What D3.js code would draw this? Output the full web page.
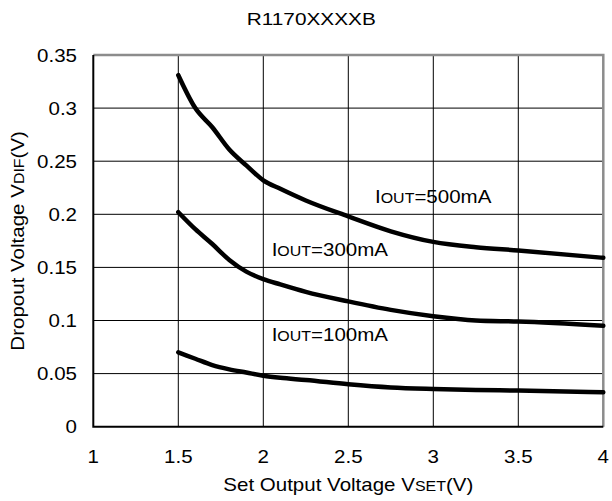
<!DOCTYPE html>
<html>
<head>
<meta charset="utf-8">
<script src="https://cdn.jsdelivr.net/npm/d3@7"></script>
<style>
  body { margin: 0; background: #fff; }
  text { font-family: "Liberation Sans", Arial, sans-serif; fill: #000; }
</style>
</head>
<body>
<div id="chart"></div>
<script>
// data
const vset = [1.5, 1.6, 1.7, 1.8, 1.9, 2.0, 2.1, 2.25, 2.5, 2.75, 3.0, 3.25, 3.5, 4.0];
const vdif500 = [0.331, 0.300, 0.282, 0.261, 0.246, 0.232, 0.224, 0.213, 0.198, 0.184, 0.174, 0.169, 0.166, 0.159];
const vdif300 = [0.202, 0.186, 0.172, 0.157, 0.146, 0.139, 0.134, 0.127, 0.118, 0.110, 0.104, 0.100, 0.099, 0.095];
const vdif100 = [0.070, 0.064, 0.058, 0.054, 0.051, 0.048, 0.046, 0.044, 0.040, 0.037, 0.0355, 0.0345, 0.034, 0.0325];
const seriesNames = ["500mA", "300mA", "100mA"];
const xTicks = [1, 1.5, 2, 2.5, 3, 3.5, 4];
const yTicks = [0, 0.05, 0.1, 0.15, 0.2, 0.25, 0.3, 0.35];

const width = 612, height = 501;
const plot = { left: 93.3, right: 603.3, top: 55, bottom: 426.7 };
const sx = 1.14; // the source fonts are drawn a bit wide

const svg = d3.select("#chart").append("svg")
  .attr("width", width).attr("height", height);

const x = d3.scaleLinear().domain([1, 4]).range([plot.left, plot.right]);
const y = d3.scaleLinear().domain([0, 0.35]).range([plot.bottom, plot.top]);

// text with optional small-caps style subscripts, stretched horizontally
function label(px, py, parts, opts) {
  const o = Object.assign({ size: 18, small: 14, anchor: "start", rotate: 0, stretch: sx }, opts);
  const g = svg.append("g")
    .attr("transform", `translate(${px},${py}) rotate(${o.rotate}) scale(${o.stretch},1)`);
  const t = g.append("text").attr("text-anchor", o.anchor).attr("font-size", o.size);
  parts.forEach(p => {
    t.append("tspan").attr("font-size", p.small ? o.small : o.size).text(p.t);
  });
  return t;
}

// grid
svg.append("g").selectAll("line").data(yTicks.slice(1, -1)).join("line")
  .attr("x1", plot.left).attr("x2", plot.right)
  .attr("y1", d => y(d)).attr("y2", d => y(d))
  .attr("stroke", "#000").attr("stroke-width", 1);
svg.append("g").selectAll("line").data(xTicks.slice(1, -1)).join("line")
  .attr("x1", d => x(d)).attr("x2", d => x(d))
  .attr("y1", plot.top).attr("y2", plot.bottom)
  .attr("stroke", "#000").attr("stroke-width", 1);

// frame: grey top/right, black left/bottom
svg.append("path")
  .attr("d", `M${plot.left},${plot.top}H${plot.right}V${plot.bottom}`)
  .attr("fill", "none").attr("stroke", "#8c8c8c").attr("stroke-width", 2.5);
svg.append("path")
  .attr("d", `M${plot.left},${plot.top}V${plot.bottom}H${plot.right}`)
  .attr("fill", "none").attr("stroke", "#000").attr("stroke-width", 2);

// tick labels
yTicks.forEach(v => label(77, y(v) + 6.5, [{ t: String(+v.toFixed(2)) }], { anchor: "end" }));
xTicks.forEach(v => label(x(v), 463, [{ t: String(v) }], { anchor: "middle" }));

// curves
const line = d3.line()
  .x((d, i) => x(vset[i]))
  .y(d => y(d))
  .curve(d3.curveMonotoneX);
[vdif500, vdif300, vdif100].forEach(s => {
  svg.append("path")
    .attr("d", line(s))
    .attr("fill", "none")
    .attr("stroke", "#000")
    .attr("stroke-width", 4.5)
    .attr("stroke-linecap", "round")
    .attr("stroke-linejoin", "round");
});

// series labels
const labelAt = [[2.657, 0.2104], [2.049, 0.1612], [2.049, 0.0807]];
seriesNames.forEach((n, i) => {
  label(x(labelAt[i][0]), y(labelAt[i][1]),
    [{ t: "I" }, { t: "OUT", small: true }, { t: "=" + n }]);
});

// titles
label((plot.left + plot.right) / 2 - 37, 25, [{ t: "R1170XXXXB" }], { size: 16, stretch: 1.3, anchor: "middle" });
label((plot.left + plot.right) / 2, 491, [{ t: "Set Output Voltage V" }, { t: "SET", small: true }, { t: "(V)" }], { anchor: "middle" });
label(24, (plot.top + plot.bottom) / 2, [{ t: "Dropout Voltage V" }, { t: "DIF", small: true }, { t: "(V)" }], { anchor: "middle", rotate: -90 });
</script>
</body>
</html>
